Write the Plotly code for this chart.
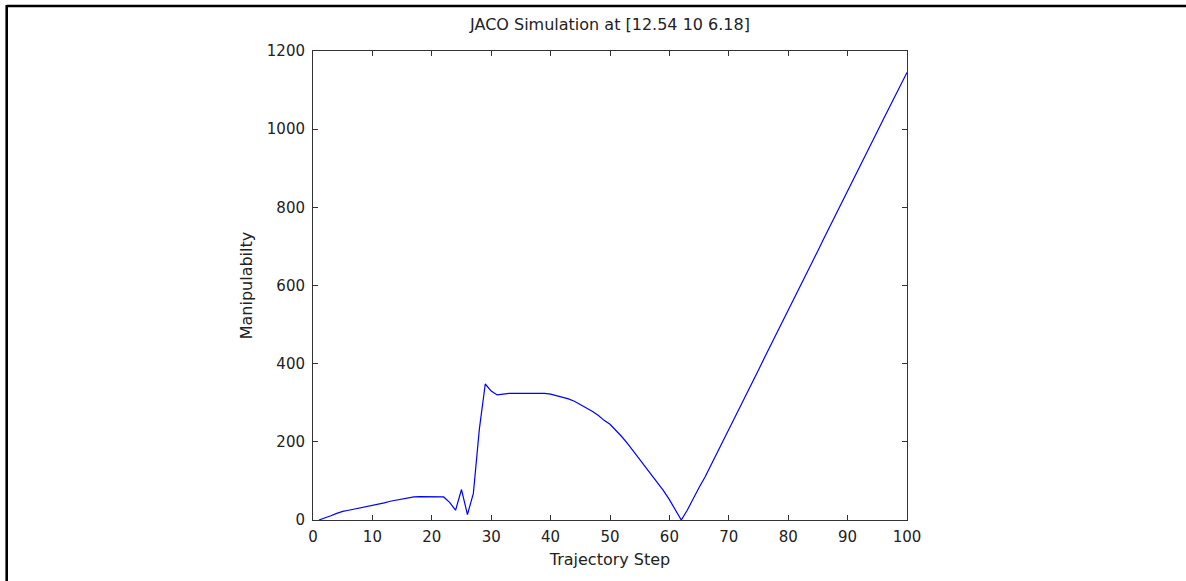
import plotly.graph_objects as go

steps = list(range(1, 101))
manipulability = [
    0, 5, 11, 17, 22, 25, 28, 31, 34, 38,
    41, 44, 48, 51, 54, 57, 59, 60, 60, 60,
    60, 59, 45, 25, 78, 14, 68, 232, 348, 330,
    320, 322, 324, 324, 324, 324, 324, 324, 324, 322,
    318, 314, 310, 304, 296, 287, 278, 268, 255, 245,
    230, 213, 195, 175, 155, 137, 118, 98, 75, 52,
    25, 0, 25, 55, 83, 110, 140, 170, 200, 232,
    262, 293, 323, 354, 384, 415, 445, 476, 506, 537,
    567, 598, 628, 659, 689, 720, 750, 781, 811, 842,
    872, 903, 933, 964, 994, 1025, 1055, 1086, 1116, 1145,
]
x_ticks = list(range(0, 101, 10))
y_ticks = list(range(0, 1201, 200))
title_text = "JACO Simulation at [12.54 10 6.18]"
x_title = "Trajectory Step"
y_title = "Manipulabilty"

W, H = 1186, 581
L, R, T, B = 313, 907, 51, 520

FAM = "DejaVu Sans, Liberation Sans, Arial, sans-serif"
tick_font = dict(family=FAM, size=15, color="#222222")
label_font = dict(family=FAM, size=16, color="#222222")

fig = go.Figure()
fig.add_trace(go.Scatter(x=steps, y=manipulability, mode="lines",
                         line=dict(color="#0000FF", width=1.2),
                         showlegend=False, hoverinfo="x+y"))

axis_common = dict(showgrid=False, zeroline=False, showline=True, linecolor="#333333",
                   linewidth=1, mirror="ticks", ticks="inside", ticklen=5,
                   tickcolor="#333333", tickwidth=1, tickfont=tick_font)

fig.update_layout(
    width=W, height=H,
    margin=dict(l=L, r=W - R, t=T, b=H - B, pad=0),
    paper_bgcolor="white", plot_bgcolor="white",
    font=tick_font,
    title=dict(text=title_text, x=(L + R) / 2 / W, xanchor="center",
               y=1 - 24 / H, yanchor="middle", font=label_font),
    xaxis=dict(range=[0, 100], tickvals=x_ticks, ticktext=[str(v) for v in x_ticks],
               ticklabelstandoff=3,
               title=dict(text=x_title, standoff=8, font=label_font), **axis_common),
    yaxis=dict(range=[0, 1200], tickvals=y_ticks, ticktext=[str(v) for v in y_ticks],
               ticklabelstandoff=4,
               title=dict(text=y_title, standoff=10, font=label_font), **axis_common),
)

# outer frame (top and left edges), in paper coordinates
pw, ph = R - L, B - T
def px(xp):
    return (xp - L) / pw
def py(yp):
    return (B - yp) / ph

fig.add_shape(type="line", xref="paper", yref="paper",
              x0=px(6.7), x1=px(W + 2), y0=py(6), y1=py(6),
              line=dict(color="black", width=2.6))
fig.add_shape(type="line", xref="paper", yref="paper",
              x0=px(6.7), x1=px(6.7), y0=py(5), y1=py(H + 2),
              line=dict(color="black", width=2.6))

fig.write_html("out.html")
